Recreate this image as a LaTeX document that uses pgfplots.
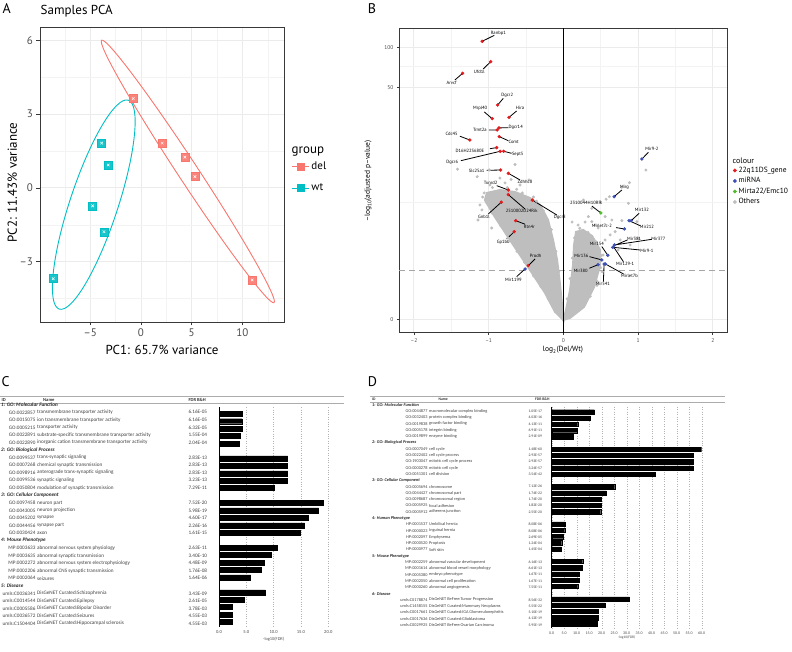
\documentclass[border=0pt]{standalone}
\usepackage{fontspec}
\setmainfont{PT Sans}
\newfontfamily\calib{Carlito}
\usepackage{pgfplots}
\usepackage{pgfplotstable}
\pgfplotsset{compat=1.18}
\definecolor{delc}{HTML}{F8766D}
\definecolor{wtc}{HTML}{00BFC4}
\definecolor{redc}{HTML}{E41A1C}
\definecolor{bluec}{HTML}{3F51B5}
\definecolor{greenc}{HTML}{4DBB2B}
\definecolor{grayc}{HTML}{BEBEBE}
\definecolor{gridc}{HTML}{EBEBEB}
\definecolor{txtc}{HTML}{4D4D4D}
\newcommand{\fs}[1]{\fontsize{#1}{#1}\selectfont}

% panel A samples
\pgfplotstableread{
x y
-0.76 3.63
2.10 1.82
4.33 1.25
5.32 0.46
10.97 -3.74
}\deltab
\pgfplotstableread{
x y
-3.87 1.82
-3.22 0.93
-4.76 -0.73
-3.65 -1.78
-8.64 -3.69
}\wttab

% panel B labelled genes
\pgfplotstableread{
x y
-1.086 2.047
-0.973 1.897
-1.349 1.811
-0.879 1.578
-0.952 1.477
-0.728 1.487
-0.885 1.394
-0.862 1.409
-1.251 1.320
-0.858 1.345
-0.893 1.264
-0.799 1.237
-0.845 1.237
-0.839 1.099
-0.737 1.075
-0.737 0.952
-0.737 0.918
-0.831 0.862
-0.416 0.878
-0.638 0.726
-0.657 0.645
-0.469 0.395
}\redtab
\pgfplotstableread{
x y
-0.513 0.370
1.051 1.180
0.680 0.903
0.908 0.726
0.880 0.726
0.818 0.665
0.684 0.547
0.662 0.530
0.595 0.471
0.515 0.437
0.465 0.402
0.563 0.407
0.545 0.407
}\bluetab
\pgfplotstableread{
x y lab
-0.871 2.106 Ranbp1
-1.126 1.823 Ufd1l
-1.496 1.738 Arvcf
-0.751 1.649 Dgcr2
-1.113 1.551 Mrpl40
-0.580 1.554 Hira
-1.117 1.394 Trmt2a
-0.638 1.411 Dgcr14
-1.496 1.362 Cdc45
-0.665 1.308 Comt
-1.251 1.242 D16H22S680E
-0.611 1.215 Sept5
-1.488 1.153 Dgcr6
-1.161 1.090 Slc25a1
-0.513 1.009 Zdhhc8
-0.973 1.001 Txnrd2
-0.558 0.800 2510002D24Rik
-1.063 0.756 Gnb1l
-0.048 0.751 Dgcr8
-0.456 0.680 Rtn4r
-0.804 0.569 Gp1bb
-0.370 0.466 Prodh
-0.670 0.289 Mir1199
1.185 1.252 Mir9-2
0.818 0.972 Mirg
0.304 0.854 2310044H10Rik
1.051 0.803 Mir132
1.118 0.677 Mir212
0.515 0.689 Mirlet7c-2
1.273 0.594 Mir377
0.948 0.589 Mir381
1.118 0.503 Mir9-1
0.448 0.554 Mir154
0.827 0.407 Mir129-1
0.241 0.468 Mir136
0.233 0.358 Mir380
0.885 0.321 Mirlet7b
0.528 0.260 Mir541
}\labtab
\pgfplotstableread{
x y
-1.086 2.047
-0.925 2.091
nan nan
-0.973 1.897
-1.072 1.843
nan nan
-1.349 1.811
-1.452 1.762
nan nan
-0.879 1.578
-0.804 1.627
nan nan
-0.952 1.477
-1.059 1.527
nan nan
-0.728 1.487
-0.625 1.534
nan nan
-0.885 1.394
-0.996 1.394
nan nan
-0.862 1.409
-0.737 1.411
nan nan
-1.251 1.320
-1.385 1.348
nan nan
-0.858 1.345
-0.737 1.315
nan nan
-0.893 1.264
-0.983 1.256
nan nan
-0.799 1.237
-0.692 1.222
nan nan
-0.845 1.237
-1.371 1.168
nan nan
-0.839 1.099
-1.027 1.097
nan nan
-0.737 1.075
-0.580 1.026
nan nan
-0.737 0.952
-0.893 0.984
nan nan
-0.737 0.918
-0.513 0.812
nan nan
-0.831 0.862
-1.005 0.775
nan nan
-0.416 0.878
-0.088 0.768
nan nan
-0.638 0.726
-0.513 0.700
nan nan
-0.657 0.645
-0.759 0.591
nan nan
-0.469 0.395
-0.379 0.444
nan nan
-0.513 0.370
-0.625 0.314
nan nan
1.051 1.180
1.139 1.230
nan nan
0.680 0.903
0.783 0.952
nan nan
0.501 0.783
0.381 0.834
nan nan
0.908 0.726
1.015 0.781
nan nan
0.880 0.726
1.028 0.689
nan nan
0.818 0.665
0.706 0.675
nan nan
0.684 0.547
1.185 0.589
nan nan
0.670 0.540
0.858 0.584
nan nan
0.662 0.530
1.028 0.510
nan nan
0.595 0.471
0.515 0.535
nan nan
0.670 0.535
0.804 0.424
nan nan
0.515 0.437
0.349 0.461
nan nan
0.465 0.402
0.349 0.376
nan nan
0.563 0.407
0.804 0.334
nan nan
0.545 0.407
0.536 0.277
}\segtab
\pgfplotstableread{
x y
-1.416 1.105
-1.153 1.050
-0.992 1.099
-0.647 1.140
-0.625 0.957
-0.316 0.768
-0.290 0.682
-0.223 0.658
-1.117 0.842
-1.090 0.805
-0.983 0.989
-0.781 1.004
-0.513 0.878
-0.379 0.820
-0.245 0.547
-0.178 0.451
-0.580 0.989
-1.143 0.731
-0.958 0.672
-0.151 0.348
-0.460 1.026
-0.849 1.040
-0.400 0.900
-0.300 0.740
-0.200 0.620
-1.060 0.930
-0.700 1.030
-0.080 0.060
-0.200 0.150
-0.300 0.240
-0.400 0.320
-0.520 0.420
-0.620 0.500
-0.740 0.600
-0.840 0.690
-0.950 0.780
-1.030 0.860
-1.080 0.900
-0.950 0.970
-0.750 0.970
-0.550 0.930
-0.360 0.870
-0.270 0.800
-0.160 0.660
-0.100 0.500
-0.060 0.350
1.105 1.099
0.885 1.006
0.783 0.972
0.617 0.903
0.572 0.884
0.492 0.866
0.268 0.878
0.381 0.817
0.871 0.854
0.559 0.756
0.335 0.756
0.381 0.719
0.649 0.731
0.783 0.726
0.984 0.719
0.693 0.645
1.005 0.596
0.760 0.584
0.448 0.560
0.559 0.584
0.626 0.621
0.733 0.510
0.894 0.547
0.197 0.694
0.291 0.716
0.465 0.672
0.532 0.473
0.425 0.694
0.117 0.716
0.520 0.350
0.450 0.250
0.050 0.150
0.090 0.300
0.120 0.450
0.150 0.600
0.220 0.670
0.330 0.640
0.440 0.570
0.510 0.470
0.500 0.380
0.450 0.280
0.360 0.170
0.220 0.070
}\graytab

\begin{document}
\begin{tikzpicture}
\useasboundingbox (0pt,0pt) rectangle (792pt,651pt);

% ================= A: PCA
\begin{axis}[at={(40pt,329pt)}, anchor=south west, scale only axis,
  width=244pt, height=295pt,
  xmin=-9.95, xmax=14.1, ymin=-5.45, ymax=6.54,
  xtick={-10,-5,0,5,10}, xticklabels={–10,–5,0,5,10},
  ytick={-3,0,3,6}, yticklabels={–3,0,3,6},
  minor xtick={-7.5,-2.5,2.5,7.5,12.5}, minor ytick={-4.5,-1.5,1.5,4.5},
  grid=both, major grid style={draw=gridc, line width=0.9pt},
  minor grid style={draw=gridc!60, line width=0.5pt},
  axis line style={draw=gray!45!black, line width=0.9pt},
  tick pos=left, tick align=outside, major tick length=3.5pt, minor tick length=0pt,
  major tick style={draw=gray!45!black, line width=0.8pt},
  ticklabel style={font=\fs{11}, text=txtc},
  xlabel={PC1: 65.7\% variance}, ylabel={PC2: 11.43\% variance},
  label style={font=\fs{13}},
  xlabel style={at={(axis description cs:0.5,-0.095)}, anchor=center},
  ylabel style={at={(axis description cs:-0.113,0.473)}, anchor=center},
  legend style={at={(1.03,0.55)}, anchor=north west, draw=none, fill=none,
    font=\fs{11}, row sep=9pt, inner sep=0pt},
  legend cell align=left]
\addlegendimage{delc, line width=0.9pt, mark=square*, mark size=3.5pt, mark options={fill=delc, draw=delc}}
\addlegendentry{del}
\addlegendimage{wtc, line width=0.9pt, mark=square*, mark size=3.5pt, mark options={fill=wtc, draw=wtc}}
\addlegendentry{wt}
\draw[delc, line width=0.9pt, rotate around={-56.7:(axis cs:4.62,0.67)}]
  (axis cs:4.62,0.67) ellipse [x radius=157pt, y radius=10pt];
\draw[wtc, line width=0.9pt, rotate around={71.7:(axis cs:-4.65,-0.68)}]
  (axis cs:-4.65,-0.68) ellipse [x radius=110pt, y radius=24pt];
\addplot[only marks, mark=square*, mark size=4pt, mark options={fill=delc!90, draw=delc}, forget plot] table {\deltab};
\addplot[only marks, mark=x, mark size=1.8pt, white, line width=0.5pt, forget plot] table {\deltab};
\addplot[only marks, mark=square*, mark size=4pt, mark options={fill=wtc!90, draw=wtc}, forget plot] table {\wttab};
\addplot[only marks, mark=x, mark size=1.8pt, white, line width=0.5pt, forget plot] table {\wttab};
\end{axis}

% ================= B: volcano
\begin{axis}[at={(399pt,318.3pt)}, anchor=south west, scale only axis,
  width=328.7pt, height=304.7pt,
  xmin=-2.2, xmax=2.2, ymin=-0.099, ymax=2.145,
  xtick={-2,-1,0,1,2}, xticklabels={–2,–1,0,1,2},
  minor xtick={-1.5,-0.5,0.5,1.5},
  ytick={0,1.7076,2.0043}, yticklabels={0,50,100}, minor ytick={0.864,1.863},
  grid=both, major grid style={draw=gridc, line width=0.9pt},
  minor grid style={draw=gridc!60, line width=0.5pt},
  axis line style={draw=gray!45!black, line width=0.8pt},
  tick pos=left, tick align=outside, major tick length=2pt, minor tick length=0pt,
  major tick style={draw=gray!45!black, line width=0.6pt},
  ticklabel style={font=\fs{5.5}, text=txtc},
  xlabel={log\textsubscript{2}(Del/Wt)}, ylabel={–log\textsubscript{10}(adjusted p–value)},
  label style={font=\fs{7.5}},
  xlabel style={at={(axis description cs:0.499,-0.057)}, anchor=center},
  ylabel style={at={(axis description cs:-0.094,0.498)}, anchor=center},
  legend style={at={(1.016,0.551)}, anchor=north west, draw=none, fill=none,
    font=\fs{7.5}, row sep=-0.3pt, inner sep=0pt},
  legend cell align=left]
\addlegendimage{only marks, mark=*, mark size=1.7pt, redc}
\addlegendentry{22q11DS\_gene}
\addlegendimage{only marks, mark=*, mark size=1.7pt, bluec}
\addlegendentry{miRNA}
\addlegendimage{only marks, mark=*, mark size=1.7pt, greenc}
\addlegendentry{Mirta22/Emc10}
\addlegendimage{only marks, mark=*, mark size=1.7pt, grayc}
\addlegendentry{Others}
\addplot[gray!70, dashed, dash pattern=on 6pt off 4pt, line width=1.1pt, forget plot]
  coordinates {(-2.2,0.362) (2.2,0.362)};
% dense cloud of non-significant genes
\addplot[fill=grayc, draw=grayc, line width=2pt, forget plot] coordinates {
(0,-0.005) (-0.111,0.054) (-0.245,0.194) (-0.473,0.385) (-0.688,0.562)
(-0.916,0.753) (-1.050,0.878) (-1.023,0.930) (-0.849,0.952) (-0.647,0.937)
(-0.446,0.893) (-0.312,0.842) (-0.205,0.731) (-0.138,0.584) (-0.084,0.437)
(-0.044,0.253) (-0.017,0.105)} -- cycle;
\addplot[fill=grayc, draw=grayc, line width=2pt, forget plot] coordinates {
(0,-0.005) (0.036,0.068) (0.090,0.216) (0.130,0.400) (0.143,0.547)
(0.170,0.643) (0.264,0.658) (0.385,0.613) (0.492,0.510) (0.492,0.400)
(0.412,0.238) (0.277,0.091) (0.090,0.010)} -- cycle;
\addplot[only marks, mark=*, mark size=1.3pt, grayc, forget plot] table {\graytab};
\addplot[black, line width=1.2pt, forget plot] coordinates {(0,-0.099) (0,2.145)};
\addplot[black, line width=0.8pt, unbounded coords=jump, forget plot] table {\segtab};
\addplot[only marks, mark=*, mark size=1.5pt, redc, forget plot] table {\redtab};
\addplot[only marks, mark=*, mark size=1.5pt, bluec, forget plot] table {\bluetab};
\addplot[only marks, mark=*, mark size=1.5pt, greenc, forget plot] coordinates {(0.501,0.783)};
\addplot[only marks, mark=none, nodes near coords, point meta=explicit symbolic,
  every node near coord/.style={anchor=center, font=\fs{4.6}, inner sep=0pt, text=black},
  forget plot] table[meta=lab] {\labtab};
\end{axis}

% ================= C: enrichment bars
\begin{axis}[at={(219pt,23.8pt)}, anchor=south west, scale only axis,
  width=109.3pt, height=220.1pt,
  xmin=0, xmax=20, ymin=0.1, ymax=29.7, y dir=reverse,
  axis x line*=bottom, axis y line*=left,
  x axis line style={draw=none}, y axis line style={draw=black, line width=0.8pt},
  ytick=\empty, xtick={0,5,10,15,20}, xticklabels={0.0,5.0,10.0,15.0,20.0},
  major tick length=0pt,
  xmajorgrids, major grid style={draw=gray!60, dotted, line width=0.4pt},
  ticklabel style={font=\calib\fs{4.6}, text=black!70}]
\addplot[xbar, fill=black, draw=black, bar width=5pt] coordinates {
(4.21,1) (4.21,2) (4.20,3) (3.81,4) (3.69,5)
(12.55,7) (12.55,8) (12.55,9) (12.49,10) (10.14,11)
(19.12,13) (18.22,14) (16.34,15) (15.65,16) (14.79,17)
(10.58,19) (9.47,20) (8.35,21) (7.75,22) (5.79,23)
(8.46,25) (4.58,26) (2.42,27) (2.34,28) (2.34,29)};
\end{axis}

% ================= D: enrichment bars
\begin{axis}[at={(551.7pt,22.8pt)}, anchor=south west, scale only axis,
  width=150pt, height=221.3pt,
  xmin=0, xmax=60, ymin=0.2, ymax=35.7, y dir=reverse,
  axis x line*=bottom, axis y line*=left,
  x axis line style={draw=none}, y axis line style={draw=black, line width=0.8pt},
  ytick=\empty, xtick={0,5,...,60},
  xticklabels={0.0,5.0,10.0,15.0,20.0,25.0,30.0,35.0,40.0,45.0,50.0,55.0,60.0},
  major tick length=0pt,
  xmajorgrids, major grid style={draw=gray!60, dotted, line width=0.4pt},
  ticklabel style={font=\calib\fs{4}, text=black!70}]
\addplot[xbar, fill=black, draw=black, bar width=4.3pt] coordinates {
(17.1,1) (15.5,2) (10.4,3) (10.2,4) (8.6,5)
(59.8,7) (56.5,8) (56.5,9) (56.5,10) (41.5,11)
(25.2,13) (21.8,14) (19.8,15) (19.7,16) (19.6,17)
(5.3,19) (5.2,20) (4.7,21) (4.0,22) (3.9,23)
(12.4,25) (12.3,26) (11.1,27) (11.0,28) (10.4,29)
(31.1,31) (21.4,32) (18.5,33) (18.5,34) (18.3,35)};
\end{axis}

% ================= text in pixel coordinates (y downwards)
\begin{scope}[x=1pt, y=-1pt, yshift=651pt]
\node[anchor=center, font=\fs{14}] at (6.7,8.3) {A};
\node[anchor=center, font=\fs{14}] at (372,8.3) {B};
\node[anchor=center, font=\fs{14}] at (5.5,381.7) {C};
\node[anchor=center, font=\fs{14}] at (372.5,381.7) {D};
\node[anchor=west, inner sep=0, font=\fs{13}] at (40.5,11.5) {Samples PCA};
\node[anchor=west, inner sep=0, font=\fs{13}] at (291.5,151.7) {group};
\node[anchor=west, inner sep=0, font=\fs{8}] at (732.5,161) {colour};

% table C
\draw[gray!65, line width=1pt] (0,396.7) -- (344,396.7) (0,403.3) -- (344,403.3);
\begin{scope}[every node/.style={inner sep=0, font=\calib\fs{4.6}\bfseries, text=black!80}]
\node[anchor=west] at (1.5,400) {ID};
\node[anchor=west] at (43,400) {Name};
\node[anchor=west] at (188.3,400) {FDR B\&H};
\end{scope}
\foreach \cat [count=\k from 0] in {{1: GO: Molecular Function},{2: GO: Biological Process},
  {3: GO: Cellular Component},{4: Mouse Phenotype},{5: Disease}}{
  \pgfmathsetmacro\yy{404.7+7.546*6*\k}
  \node[anchor=west, inner sep=0, font=\calib\fs{5.2}\bfseries\itshape, text=black!85] at (1,\yy) {\cat};
}
\foreach \id/\nm/\fdr [count=\i from 0] in {
GO:0022857/transmembrane transporter activity/6.16E-05,
GO:0015075/ion transmembrane transporter activity/6.16E-05,
GO:0005215/transporter activity/6.32E-05,
GO:0022891/substrate-specific transmembrane transporter activity/1.55E-04,
GO:0022890/inorganic cation transmembrane transporter activity/2.04E-04,
GO:0099537/trans-synaptic signaling/2.83E-13,
GO:0007268/chemical synaptic transmission/2.83E-13,
GO:0098916/anterograde trans-synaptic signaling/2.83E-13,
GO:0099536/synaptic signaling/3.23E-13,
GO:0050804/modulation of synaptic transmission/7.29E-11,
GO:0097458/neuron part/7.52E-20,
GO:0043005/neuron projection/5.98E-19,
GO:0045202/synapse/4.60E-17,
GO:0044456/synapse part/2.26E-16,
GO:0030424/axon/1.61E-15,
MP:0003633/abnormal nervous system physiology/2.63E-11,
MP:0003635/abnormal synaptic transmission/3.40E-10,
MP:0002272/abnormal nervous system electrophysiology/4.48E-09,
MP:0002206/abnormal CNS synaptic transmission/1.76E-08,
MP:0002064/seizures/1.64E-06,
umls:C0036341/DisGeNET Curated:Schizophrenia/3.43E-09,
umls:C0014544/DisGeNET Curated:Epilepsy/2.61E-05,
umls:C0005586/DisGeNET Curated:Bipolar Disorder/3.78E-03,
umls:C0036572/DisGeNET Curated:Seizures/4.55E-03,
umls:C1504404/DisGeNET Curated:Hippocampal sclerosis/4.55E-03}{
  \pgfmathtruncatemacro\rr{6*int(\i/5)+mod(\i,5)+1}
  \pgfmathsetmacro\yy{404.7+7.546*\rr}
  \node[anchor=east, inner sep=0, font=\calib\fs{5.2}, text=black!75] at (35.6,\yy) {\id};
  \node[anchor=west, inner sep=0, font=\calib\fs{5.2}, text=black!75] at (37,\yy) {\nm};
  \node[anchor=west, inner sep=0, font=\calib\fs{5.2}, text=black!75] at (188.3,\yy) {\fdr};
}
\node[inner sep=0, font=\calib\fs{4.4}, text=black!70] at (273.7,639.5) {-log10(FDR)};

% table D
\draw[gray!65, line width=1pt] (370,396.5) -- (725,396.5) (370,402.2) -- (725,402.2);
\begin{scope}[every node/.style={inner sep=0, font=\calib\fs{3.8}\bfseries, text=black!80}]
\node[anchor=west] at (372,399.3) {ID};
\node[anchor=west] at (438.3,399.3) {Name};
\node[anchor=west] at (535,399.3) {FDR B\&H};
\end{scope}
\foreach \cat [count=\k from 0] in {{1: GO: Molecular Function},{2: GO: Biological Process},
  {3: GO: Cellular Component},{4: Human Phenotype},{5: Mouse Phenotype},{6: Disease}}{
  \pgfmathsetmacro\yy{405+6.286*6*\k}
  \node[anchor=west, inner sep=0, font=\calib\fs{4.3}\bfseries\itshape, text=black!85] at (372,\yy) {\cat};
}
\foreach \id/\nm/\fdr [count=\i from 0] in {
GO:0044877/macromolecular complex binding/1.05E-17,
GO:0032403/protein complex binding/4.03E-16,
GO:0019838/growth factor binding/4.13E-11,
GO:0005178/integrin binding/6.91E-11,
GO:0019899/enzyme binding/2.91E-09,
GO:0007049/cell cycle/1.48E-60,
GO:0022402/cell cycle process/2.93E-57,
GO:1903047/mitotic cell cycle process/2.93E-57,
GO:0000278/mitotic cell cycle/3.24E-57,
GO:0051301/cell division/3.54E-42,
GO:0005694/chromosome/7.12E-26,
GO:0044427/chromosomal part/1.74E-22,
GO:0098687/chromosomal region/1.74E-20,
GO:0005925/focal adhesion/1.82E-20,
GO:0005912/adherens junction/2.55E-20,
HP:0001537/Umbilical hernia/8.08E-06,
HP:0000023/Inguinal hernia/8.08E-06,
HP:0002097/Emphysema/2.69E-05,
HP:0000520/Proptosis/1.24E-04,
HP:0000977/Soft skin/1.45E-04,
MP:0002259/abnormal vascular development/6.16E-13,
MP:0001614/abnormal blood vessel morphology/6.61E-13,
MP:0005380/embryo phenotype/1.67E-11,
MP:0002050/abnormal cell proliferation/1.67E-11,
MP:0000260/abnormal angiogenesis/7.55E-11,
umls:C0178874/DisGeNET BeFree:Tumor Progression/8.56E-32,
umls:C1458155/DisGeNET Curated:Mammary Neoplasms/5.55E-22,
umls:C0017661/DisGeNET Curated:IGA Glomerulonephritis/5.10E-19,
umls:C0017636/DisGeNET Curated:Glioblastoma/4.12E-19,
umls:C0029925/DisGeNET BeFree:Ovarian Carcinoma/5.95E-19}{
  \pgfmathtruncatemacro\rr{6*int(\i/5)+mod(\i,5)+1}
  \pgfmathsetmacro\yy{405+6.286*\rr}
  \node[anchor=east, inner sep=0, font=\calib\fs{4.3}, text=black!75] at (427.7,\yy) {\id};
  \node[anchor=west, inner sep=0, font=\calib\fs{4.3}, text=black!75] at (429,\yy) {\nm};
  \node[anchor=west, inner sep=0, font=\calib\fs{3.8}, text=black!75] at (528.3,\yy) {\fdr};
}
\node[inner sep=0, font=\calib\fs{3.6}, text=black!70] at (626.7,637.5) {-log10(FDR)};
\end{scope}
\end{tikzpicture}
\end{document}
